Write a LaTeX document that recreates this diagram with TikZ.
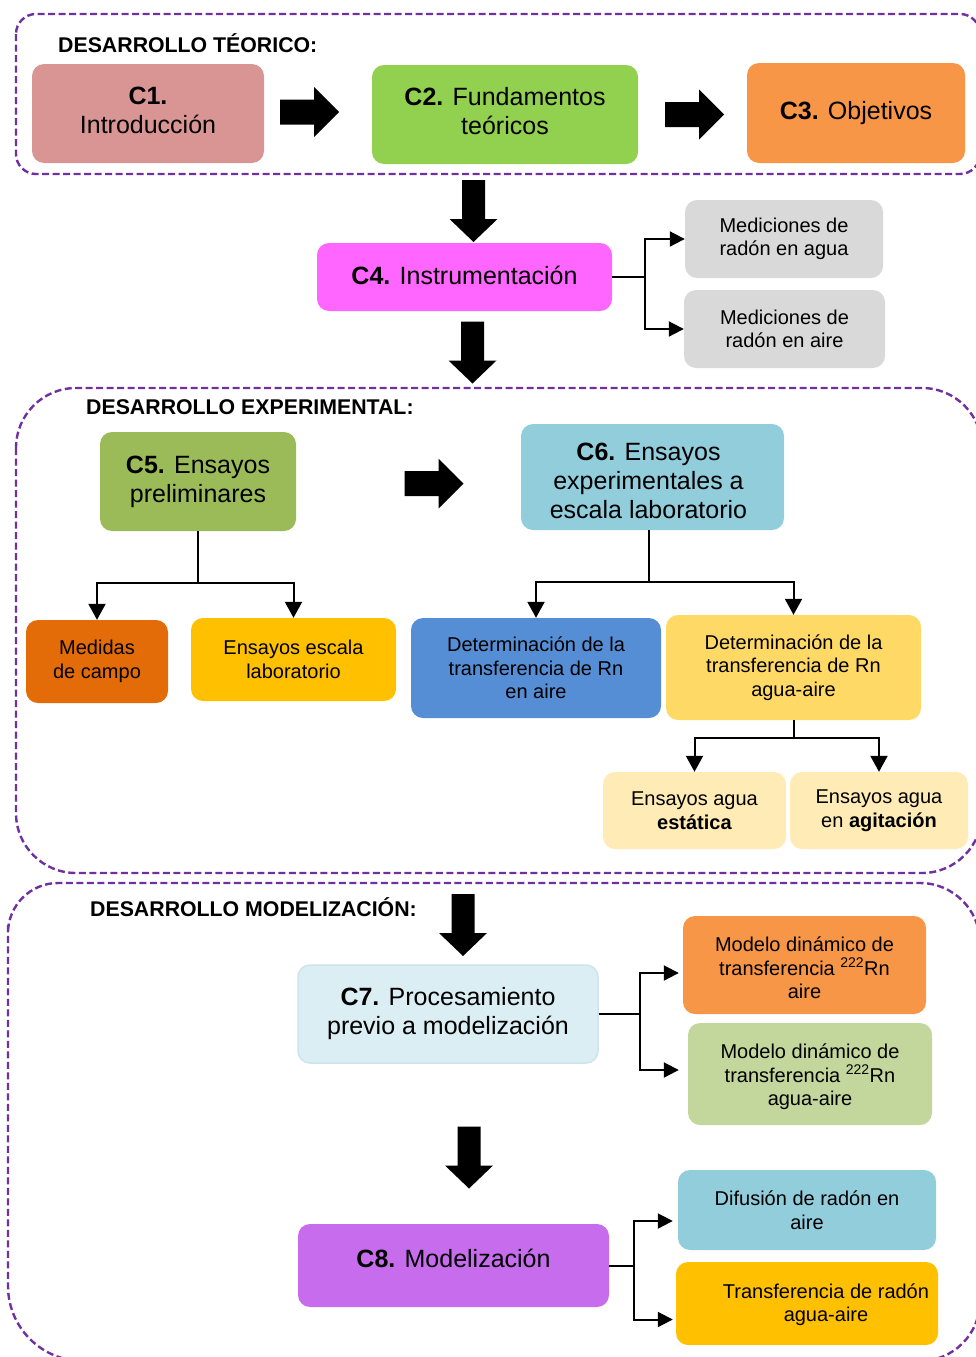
\documentclass[tikz,border=0pt]{standalone}
\usepackage{fontspec}
\setmainfont{Liberation Sans}
\usetikzlibrary{arrows.meta,calc}

\definecolor{framepurple}{HTML}{7030A0}
\definecolor{cintro}{HTML}{D99594}
\definecolor{cfund}{HTML}{92D050}
\definecolor{cobj}{HTML}{F79646}
\definecolor{cinst}{HTML}{FF66FF}
\definecolor{cgray}{HTML}{D9D9D9}
\definecolor{cprelim}{HTML}{9BBB59}
\definecolor{cexper}{HTML}{92CDDC}
\definecolor{ccampo}{HTML}{E36C09}
\definecolor{cescala}{HTML}{FFC000}
\definecolor{caire}{HTML}{558ED5}
\definecolor{caguaaire}{HTML}{FFD966}
\definecolor{cpale}{HTML}{FFEBB5}
\definecolor{cproc}{HTML}{DBEEF4}
\definecolor{cprocline}{HTML}{CDE4EC}
\definecolor{cmodelo}{HTML}{C3D69B}
\definecolor{cmodel}{HTML}{C66CEC}

\begin{document}
\begin{tikzpicture}[x=1pt,y=-1pt,
  box/.style={rectangle,rounded corners=12pt,inner sep=0pt,align=center,text=black},
  boxtext/.style={inner sep=0pt,align=center,text=black},
  big/.style={font=\fontsize{25}{29}\selectfont},
  small/.style={font=\fontsize{20}{23.5}\selectfont},
  secttitle/.style={font=\fontsize{21.3}{25}\selectfont\bfseries,anchor=west,inner sep=0pt},
  sectframe/.style={draw=framepurple,line width=2.4pt,dash pattern=on 7pt off 3.5pt},
  conn/.style={draw=black,line width=2pt},
  tip/.style={conn,-{Triangle[length=15pt,width=15pt]}},
  tipb/.style={conn,-{Triangle[length=16pt,width=17pt]}},
  rarrow/.pic={\fill[black] (-29.5,-12.5) -- (4.5,-12.5) -- (4.5,-25) -- (29.5,0)
      -- (4.5,25) -- (4.5,12.5) -- (-29.5,12.5) -- cycle;},
  darrow/.pic={\fill[black] (-11.5,-31) -- (11.5,-31) -- (11.5,8) -- (24,8) -- (0,31)
      -- (-24,8) -- (-11.5,8) -- cycle;},
]
\useasboundingbox (0,0) rectangle (976,1357);

% ---- section frames ----
\draw[sectframe,rounded corners=20pt] (16,14) rectangle (980,174);
\draw[sectframe,rounded corners=60pt] (16,388) rectangle (982,873);
\draw[sectframe] (8,1000) [rounded corners=50pt] -- (8,883) [rounded corners=60pt] -- (980,883)
  -- (980,1361) [rounded corners=75pt] -- (8,1361) -- cycle;

\node[secttitle] (t1) at (58,43) {DESARROLLO TÉORICO:};
\node[secttitle] (t2) at (86,407) {DESARROLLO EXPERIMENTAL:};
\node[secttitle] (t3) at (90,907) {DESARROLLO MODELIZACIÓN:};

% ---- theoretical part ----
\node[box,fill=cintro,minimum width=232pt,minimum height=99pt] (c1) at (148,113.5) {};
\node[boxtext,big] (c1text) at ($(c1.center)+(0,-3)$) {\textbf{C1.}\\Introducción};
\node[box,fill=cfund,minimum width=266pt,minimum height=99pt] (c2) at (505,114.5) {};
\node[boxtext,big] (c2text) at ($(c2.center)+(0,-3)$) {\textbf{C2.} Fundamentos\\teóricos};
\node[box,big,fill=cobj,minimum width=218pt,minimum height=100pt] (c3) at (856,113)
  {\textbf{C3.} Objetivos};
\pic at (309.5,112) {rarrow};
\pic at (694.5,114.5) {rarrow};
\pic at (473.5,211) {darrow};

% ---- instrumentation ----
\node[box,fill=cinst,minimum width=295pt,minimum height=68pt] (c4) at (464.5,277) {};
\node[boxtext,big] (c4text) at ($(c4.center)+(0,-2)$) {\textbf{C4.} Instrumentación};
\node[box,small,fill=cgray,minimum width=198pt,minimum height=78pt] (g1) at (784,239)
  {Mediciones de\\radón en agua};
\node[box,small,fill=cgray,minimum width=201pt,minimum height=78pt] (g2) at (784.5,329)
  {Mediciones de\\radón en aire};
\draw[conn] (c4.east) -- ++(33,0) coordinate (k4);
\draw[tip] (k4) |- (g1.west);
\draw[tip] (k4) |- (g2.west);
\pic at (472.5,352.5) {darrow};

% ---- experimental part ----
\node[box,big,fill=cprelim,minimum width=196pt,minimum height=99pt] (c5) at (198,481.5)
  {\textbf{C5.} Ensayos\\preliminares};
\node[box,fill=cexper,minimum width=263pt,minimum height=106pt] (c6) at (652.5,477) {};
\node[boxtext,big] (c6text) at ($(c6.center)+(-4,4)$)
  {\textbf{C6.} Ensayos\\experimentales a\\escala laboratorio};
\pic at (434,483.5) {rarrow};

\node[box,small,fill=ccampo,minimum width=142pt,minimum height=83pt] (campo) at (97,661.5)
  {Medidas\\de campo};
\node[box,small,fill=cescala,minimum width=205pt,minimum height=83pt] (escala) at (293.5,659.5)
  {Ensayos escala\\laboratorio};
\draw[conn] (c5.south) -- ++(0,52) coordinate (j5);
\draw[tipb] (j5) -| (campo.north);
\draw[tipb] (j5) -| (escala.north);

\node[box,small,fill=caire,minimum width=250pt,minimum height=100pt] (aire) at (536,668)
  {Determinación de la\\transferencia de Rn\\en aire};
\node[box,small,fill=caguaaire,minimum width=255pt,minimum height=105pt] (aguaaire) at (793.5,667.5)
  {Determinación de la\\transferencia de Rn\\agua-aire};
\draw[conn] ($(c6.south)+(-4,0)$) -- ++(0,52) coordinate (j6);
\draw[tipb] (j6) -| (aire.north);
\draw[tipb] (j6) -| (aguaaire.north);

\node[box,small,fill=cpale,minimum width=183pt,minimum height=77pt] (estatica) at (694.5,810.5)
  {Ensayos agua\\\textbf{estática}};
\node[box,small,fill=cpale,minimum width=178pt,minimum height=77pt] (agitacion) at (879,810.5)
  {Ensayos agua\\en \textbf{agitación}};
\draw[conn] (aguaaire.south) -- ++(0,18) coordinate (ja);
\draw[tipb] (ja) -| (estatica.north);
\draw[tipb] (ja) -| (agitacion.north);

% ---- modelling part ----
\pic at (463,925) {darrow};
\node[box,big,fill=cproc,draw=cprocline,line width=1.5pt,minimum width=300pt,minimum height=98pt] (c7) at (448,1014)
  {\textbf{C7.} Procesamiento\\previo a modelización};
\node[box,fill=cobj,minimum width=243pt,minimum height=98pt] (m1) at (804.5,965) {};
\node[boxtext,small] (m1text) at ($(m1.center)+(0,3)$)
  {Modelo dinámico de\\transferencia \textsuperscript{222}Rn\\aire};
\node[box,fill=cmodelo,minimum width=244pt,minimum height=102pt] (m2) at (810,1074) {};
\node[boxtext,small] (m2text) at ($(m2.center)+(0,3)$)
  {Modelo dinámico de\\transferencia \textsuperscript{222}Rn\\agua-aire};
\draw[conn] (c7.east) -- ++(41,0) coordinate (k7);
\draw[tip] (k7) |- ($(m1.west)+(-4,8)$);
\draw[tip] (k7) |- ($(m2.west)+(-9,-4)$);

\pic at (469,1157.5) {darrow};
\node[box,fill=cmodel,minimum width=311pt,minimum height=83pt] (c8) at (453.5,1265.5) {};
\node[boxtext,big] (c8text) at ($(c8.center)+(0,-7)$) {\textbf{C8.} Modelización};
\node[box,small,fill=cexper,minimum width=258pt,minimum height=80pt] (d1) at (807,1210)
  {Difusión de radón en\\aire};
\node[box,fill=cescala,minimum width=262pt,minimum height=83pt] (d2) at (807,1303.5) {};
\node[boxtext,small] (d2text) at ($(d2.center)+(19,1)$)
  {Transferencia de radón\\agua-aire};
\draw[conn] (c8.east) -- ++(25,0) coordinate (k8);
\draw[tip] (k8) |- ($(d1.west)+(-5,11)$);
\draw[tip] (k8) |- ($(d2.west)+(-3,16)$);
\end{tikzpicture}
\end{document}
